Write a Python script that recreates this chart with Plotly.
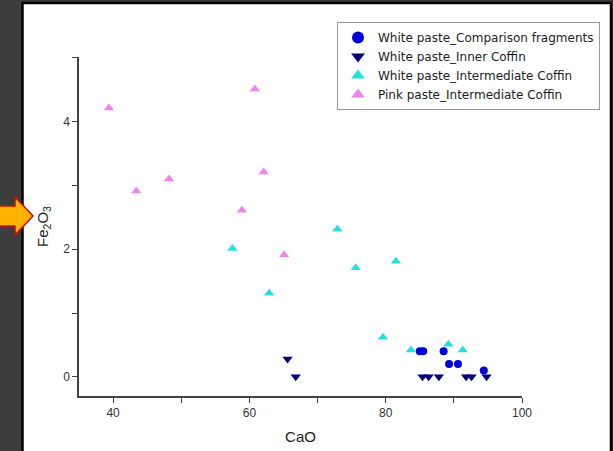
import plotly.graph_objects as go

# ---- data ----
comp_cao = [85.0, 85.5, 88.5, 89.3, 90.6, 94.4]
comp_fe = [0.40, 0.40, 0.40, 0.20, 0.20, 0.10]

inner_cao = [65.6, 66.8, 85.4, 86.3, 87.8, 91.8, 92.6, 94.8]
inner_fe = [0.28, 0.0, 0.0, 0.0, 0.0, 0.0, 0.0, 0.0]

interm_cao = [57.5, 62.9, 72.9, 75.6, 81.5, 79.6, 83.7, 89.2, 91.3]
interm_fe = [2.01, 1.31, 2.31, 1.71, 1.81, 0.62, 0.42, 0.51, 0.42]

pink_cao = [39.4, 43.4, 48.2, 58.9, 60.8, 62.1, 65.1]
pink_fe = [4.21, 2.91, 3.10, 2.61, 4.51, 3.21, 1.91]

names = ["White paste_Comparison fragments", "White paste_Inner Coffin",
         "White paste_Intermediate Coffin", "Pink paste_Intermediate Coffin"]

# ---- figure ----
W, H = 613, 451
L, R, T, B = 79, 91, 57, 55
PW, PH = W - L - R, H - T - B

def px(x):
    return (x - L) / PW

def py(y):
    return (H - B - y) / PH

FONT = "Liberation Sans, Arial"

fig = go.Figure()
fig.add_trace(go.Scatter(x=comp_cao, y=comp_fe, mode="markers", name=names[0],
                         marker=dict(symbol="circle", size=8, color="#0000dd")))
fig.add_trace(go.Scatter(x=inner_cao, y=inner_fe, mode="markers", name=names[1],
                         marker=dict(symbol="triangle-down", size=9, color="#000080")))
fig.add_trace(go.Scatter(x=interm_cao, y=interm_fe, mode="markers", name=names[2],
                         marker=dict(symbol="triangle-up", size=9, color="#22e0e0")))
fig.add_trace(go.Scatter(x=pink_cao, y=pink_fe, mode="markers", name=names[3],
                         marker=dict(symbol="triangle-up", size=9, color="#ee82ee")))

axis_common = dict(showgrid=False, zeroline=False, showline=True, linecolor="#444",
                   linewidth=1.5, ticks="outside", ticklen=5, tickwidth=1.2,
                   tickcolor="#444", tickfont=dict(family=FONT, size=12, color="#333"),
                   mirror=False)

fig.update_xaxes(range=[35, 100], tickvals=[40, 60, 80, 100], **axis_common,
                 minor=dict(tickvals=[50, 70, 90], ticklen=5, tickcolor="#444", tickwidth=1.2, ticks="outside"),
                 title=dict(text="CaO", font=dict(family=FONT, size=15, color="#222"), standoff=12))
fig.update_yaxes(range=[-0.3, 5.01], tickvals=[0, 2, 4], **axis_common,
                 minor=dict(tickvals=[1, 3, 5], ticklen=5, tickcolor="#444", tickwidth=1.2, ticks="outside"),
                 title=dict(text="Fe<sub>2</sub>O<sub>3</sub>", font=dict(family=FONT, size=15, color="#222"), standoff=11))

shapes = [
    # white slide panel with black border
    dict(type="rect", xref="paper", yref="paper", layer="below",
         x0=px(22.5), x1=px(611), y0=py(3), y1=py(460),
         fillcolor="white", line=dict(color="black", width=2.5)),
    # arrow
    dict(type="path", xref="paper", yref="paper", layer="above",
         path=(f"M {px(-2)},{py(206)} L {px(15)},{py(206)} L {px(15)},{py(197)} "
               f"L {px(33)},{py(216)} L {px(15)},{py(235)} L {px(15)},{py(226)} "
               f"L {px(-2)},{py(226)} Z"),
         fillcolor="#ffb300", line=dict(color="#cc1100", width=1.5)),
]

fig.update_layout(
    width=W, height=H,
    margin=dict(l=L, r=R, t=T, b=B, autoexpand=False),
    paper_bgcolor="#3d3d3d", plot_bgcolor="rgba(0,0,0,0)",
    shapes=shapes,
    showlegend=True,
    legend=dict(x=px(337), y=py(22), xanchor="left", yanchor="top",
                bgcolor="white", bordercolor="#999", borderwidth=1,
                font=dict(family="DejaVu Sans", size=12, color="#222"),
                tracegroupgap=0, itemsizing="constant"),
)

fig.write_html("out.html", config={"displayModeBar": False},
               post_script="document.documentElement.style.margin='0';"
                           "document.body.style.margin='0';document.body.style.padding='0';")
